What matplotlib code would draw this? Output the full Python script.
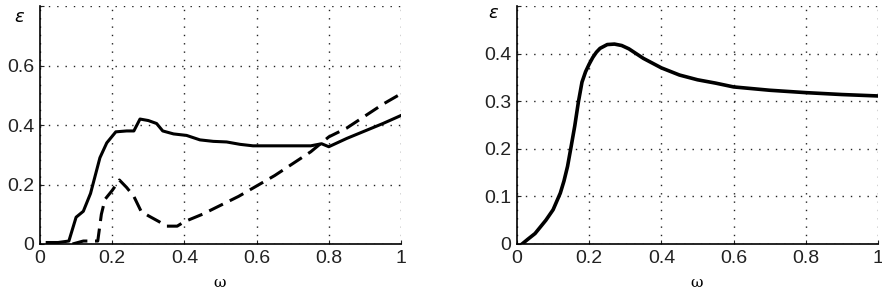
import numpy as np
import matplotlib.pyplot as plt

# left panel: solid curve
w1 = [0.02, 0.05, 0.08, 0.10, 0.12, 0.14, 0.166, 0.185, 0.21, 0.24, 0.26, 0.277,
      0.30, 0.323, 0.34, 0.37, 0.406, 0.443, 0.48, 0.517, 0.554, 0.59, 0.65, 0.70,
      0.75, 0.78, 0.80, 0.85, 0.90, 0.95, 1.0]
e1 = [0.005, 0.005, 0.01, 0.09, 0.11, 0.17, 0.29, 0.34, 0.377, 0.38, 0.38, 0.42,
      0.415, 0.405, 0.38, 0.37, 0.365, 0.35, 0.345, 0.343, 0.335, 0.33, 0.33, 0.33,
      0.33, 0.337, 0.327, 0.355, 0.38, 0.405, 0.432]

# left panel: dashed curve
w2 = [0.09, 0.12, 0.14, 0.16, 0.17, 0.18, 0.20, 0.22, 0.24, 0.26, 0.28, 0.30,
      0.33, 0.35, 0.38, 0.40, 0.45, 0.50, 0.55, 0.60, 0.65, 0.70, 0.75, 0.80,
      0.85, 0.90, 0.95, 1.0]
e2 = [0.0, 0.01, 0.01, 0.01, 0.10, 0.15, 0.18, 0.215, 0.19, 0.16, 0.11, 0.095,
      0.075, 0.06, 0.06, 0.075, 0.10, 0.13, 0.16, 0.195, 0.23, 0.27, 0.31, 0.36,
      0.39, 0.43, 0.47, 0.505]

# right panel
w3 = [0.014, 0.03, 0.05, 0.08, 0.10, 0.12, 0.13, 0.14, 0.15, 0.16, 0.17, 0.18,
      0.19, 0.20, 0.21, 0.22, 0.23, 0.25, 0.27, 0.29, 0.31, 0.35, 0.40, 0.45,
      0.50, 0.55, 0.60, 0.70, 0.80, 0.90, 1.0]
e3 = [0.0, 0.01, 0.022, 0.05, 0.072, 0.107, 0.132, 0.163, 0.205, 0.248, 0.298, 0.34,
      0.362, 0.378, 0.392, 0.403, 0.411, 0.419, 0.42, 0.417, 0.41, 0.39, 0.37, 0.355,
      0.345, 0.338, 0.33, 0.323, 0.318, 0.314, 0.311]

xticks = [0, 0.2, 0.4, 0.6, 0.8, 1]
xlabels = ['0', '0.2', '0.4', '0.6', '0.8', '1']
yticks1 = [0, 0.2, 0.4, 0.6, 0.8]
ylabels1 = ['0', '0.2', '0.4', '0.6', '']
yticks2 = [0, 0.1, 0.2, 0.3, 0.4, 0.5]
ylabels2 = ['0', '0.1', '0.2', '0.3', '0.4', '']

plt.rcParams['font.family'] = ['Liberation Sans', 'DejaVu Sans']

fig = plt.figure(figsize=(8.82, 2.97), dpi=100)
ax1 = fig.add_axes([40/882, 53/297, 361/882, 238/297])
ax2 = fig.add_axes([517/882, 53/297, 361/882, 238/297])

ax1.plot(w1, e1, color='black', lw=2.2)
ax1.plot(w2, e2, color='black', lw=2.2, dashes=(5, 2.5))
ax2.plot(w3, e3, color='black', lw=2.6)

for ax, yt, yl, top in [(ax1, yticks1, ylabels1, 0.8), (ax2, yticks2, ylabels2, 0.5)]:
    ax.set_xlim(0, 1)
    ax.set_ylim(0, top)
    ax.set_xticks(xticks)
    ax.set_xticklabels(xlabels)
    ax.set_yticks(yt)
    ax.set_yticklabels(yl)
    ax.grid(True, color='#222222', linestyle=(0, (1, 5)), lw=1.0)
    ax.spines['top'].set_visible(False)
    ax.spines['right'].set_visible(False)
    ax.spines['left'].set_linewidth(1.2)
    ax.spines['bottom'].set_linewidth(1.2)
    ax.tick_params(direction='in', length=3, labelsize=14, pad=4, colors='#222222')
    ax.set_axisbelow(True)

fig.text(20/882, 1 - 17/297, r'$\varepsilon$', fontsize=13, ha='center', va='center')
fig.text(494/882, 1 - 14/297, r'$\varepsilon$', fontsize=13, ha='center', va='center')
fig.text(220/882, 1 - 283/297, 'ω', fontsize=11, ha='center', va='center', family='DejaVu Serif')
fig.text(697/882, 1 - 283/297, 'ω', fontsize=11, ha='center', va='center', family='DejaVu Serif')

fig.savefig('out.png', dpi=100)
